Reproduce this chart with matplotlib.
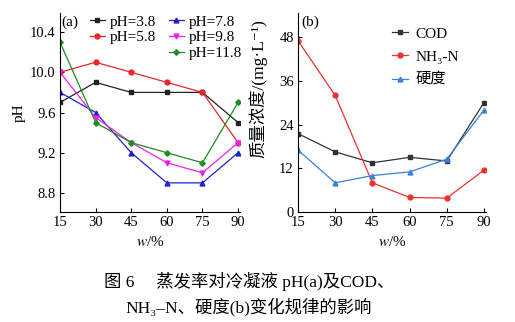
import matplotlib
matplotlib.use("Agg")
import matplotlib.pyplot as plt

plt.rcParams['font.family'] = ['Liberation Serif', 'Noto Sans CJK SC', 'DejaVu Serif']
plt.rcParams['mathtext.fontset'] = 'stix'
plt.rcParams['font.size'] = 10.5

w = [15, 30, 45, 60, 75, 90]

# panel (a): pH of condensate
ph_38 = [9.7, 9.9, 9.8, 9.8, 9.8, 9.5]
ph_58 = [10.0, 10.1, 10.0, 9.9, 9.8, 9.3]
ph_78 = [9.8, 9.6, 9.2, 8.9, 8.9, 9.2]
ph_98 = [10.0, 9.55, 9.3, 9.1, 9.0, 9.3]
ph_118 = [10.3, 9.5, 9.3, 9.2, 9.1, 9.7]

# panel (b): concentrations, mg/L
cod = [21.5, 16.5, 13.5, 15.0, 14.0, 30.0]
nh3n = [47.0, 32.0, 8.0, 4.0, 3.8, 11.5]
hard = [17.0, 8.0, 10.0, 11.0, 14.5, 28.0]

fig = plt.figure(figsize=(5.15, 3.22), dpi=100)
ax1 = fig.add_axes([0.1165, 0.3416, 0.3495, 0.618])
ax2 = fig.add_axes([0.5786, 0.3416, 0.365, 0.618])

kw = dict(lw=0.9, ms=3.5)
l1, = ax1.plot(w, ph_38, '-s', color='#222222', **kw)
l2, = ax1.plot(w, ph_58, '-o', color='#e8262a', **kw)
l3, = ax1.plot(w, ph_78, '-^', color='#2020d0', **kw)
l4, = ax1.plot(w, ph_98, '-v', color='#ee22ee', **kw)
l5, = ax1.plot(w, ph_118, '-D', color='#1e8c1e', ms=2.8, lw=0.9)

ax1.set_xlim(15, 90.8)
ax1.set_ylim(8.61, 10.59)
ax1.set_yticks([8.8, 9.2, 9.6, 10.0, 10.4])
ax1.set_ylabel('pH', labelpad=3, fontsize=11)
ax1.text(0.01, 0.985, '(a)', transform=ax1.transAxes, va='top', ha='left', fontsize=11)

leg_kw = dict(frameon=False, handlelength=1.0, handletextpad=0.3,
              labelspacing=0.12, borderaxespad=0, fontsize=11)
lg1 = ax1.legend([l1, l2], ['pH=3.8', 'pH=5.8'], loc='upper left',
                 bbox_to_anchor=(0.13, 1.02), **leg_kw)
ax1.add_artist(lg1)
ax1.legend([l3, l4, l5], ['pH=7.8', 'pH=9.8', 'pH=11.8'], loc='upper left',
           bbox_to_anchor=(0.57, 1.02), **leg_kw)

ax2.plot(w, cod, '-s', color='#333333', label='COD', **kw)
ax2.plot(w, nh3n, '-o', color='#ee3030', label='NH₃-N', **kw)
ax2.plot(w, hard, '-^', color='#3a80dd', label='硬度', **kw)
ax2.set_xlim(15, 90.8)
ax2.set_ylim(0, 54.6)
ax2.set_yticks([0, 12, 24, 36, 48])
ax2.set_ylabel('质量浓度/(mg·L⁻¹)', fontsize=12.5)
ax2.yaxis.set_label_coords(-0.165, 0.62)
ax2.text(0.02, 0.985, '(b)', transform=ax2.transAxes, va='top', ha='left', fontsize=11)
ax2.legend(loc='upper left', bbox_to_anchor=(0.47, 0.96), frameon=False,
           handlelength=1.0, handletextpad=0.5, labelspacing=0.6,
           borderaxespad=0, fontsize=11)

for ax in (ax1, ax2):
    ax.set_xticks(w)
    ax.set_xlabel('$w$/%', labelpad=4, fontsize=11)
    ax.spines['top'].set_visible(False)
    ax.spines['right'].set_visible(False)
    ax.tick_params(direction='in', length=3, width=0.8, pad=3)

fig.text(0.483, 0.125, '图 6     蒸发率对冷凝液 pH(a)及COD、', ha='center', va='center',
         fontsize=12.5)
fig.text(0.483, 0.047, 'NH₃–N、硬度(b)变化规律的影响', ha='center', va='center',
         fontsize=12.5)

fig.savefig('out.png', dpi=100)
